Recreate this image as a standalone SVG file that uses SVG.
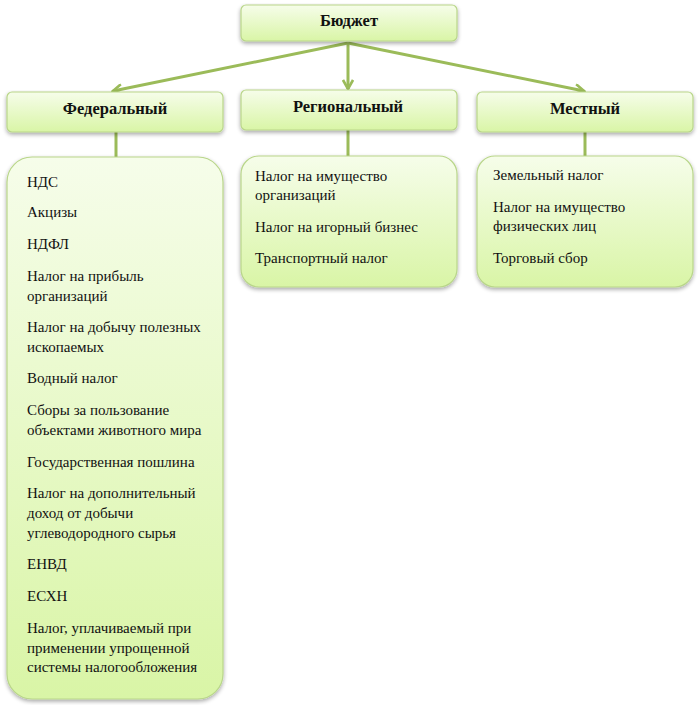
<svg xmlns="http://www.w3.org/2000/svg" width="700" height="705" viewBox="0 0 700 705">
<defs>
<linearGradient id="g" x1="0" y1="0" x2="0" y2="1">
<stop offset="0" stop-color="#f6fdea"/>
<stop offset="1" stop-color="#d9f5a6"/>
</linearGradient>
<filter id="sh" x="-10%" y="-10%" width="120%" height="130%">
<feGaussianBlur in="SourceAlpha" stdDeviation="2"/>
<feOffset dx="0" dy="2" result="b"/>
<feComponentTransfer><feFuncA type="linear" slope="0.35"/></feComponentTransfer>
<feMerge><feMergeNode/><feMergeNode in="SourceGraphic"/></feMerge>
</filter>
<marker id="ah" viewBox="0 0 12 12" refX="10" refY="6" markerWidth="12" markerHeight="12" markerUnits="userSpaceOnUse" orient="auto">
<path d="M1,1 L10,6 L1,11" fill="none" stroke="#9bbb59" stroke-width="2.6"/>
</marker>
</defs>
<style>
.box{fill:url(#g);stroke:#b9d68a;stroke-width:1.2;filter:url(#sh)}
.h{font-weight:bold;font-size:16.5px;fill:#111;text-anchor:middle}
.t{font-size:15px;fill:#111}
.c{stroke:#9bbb59;stroke-width:3;fill:none}
</style>
<rect width="700" height="705" fill="#fff"/>
<g id="connectors">
<line class="c" x1="348" y1="43" x2="113" y2="91" marker-end="url(#ah)"/>
<line class="c" x1="348" y1="43" x2="348" y2="89" marker-end="url(#ah)"/>
<line class="c" x1="348" y1="43" x2="584" y2="91" marker-end="url(#ah)"/>
<line class="c" x1="116" y1="132" x2="116" y2="158"/>
<line class="c" x1="348" y1="130" x2="348" y2="157"/>
<line class="c" x1="585" y1="132" x2="585" y2="157"/>
</g>
<g font-family="Liberation Serif, Times New Roman, serif">
<g id="budget">
<rect class="box" x="241" y="5" width="216" height="36" rx="5"/>
<text class="h" x="349" y="26">Бюджет</text>
</g>
<g id="federal">
<rect class="box" x="7" y="92" width="216" height="40" rx="5"/>
<text class="h" x="115" y="114">Федеральный</text>
</g>
<g id="regional">
<rect class="box" x="241" y="90" width="216" height="40" rx="5"/>
<text class="h" x="348" y="112">Региональный</text>
</g>
<g id="local">
<rect class="box" x="477" y="92" width="216" height="40" rx="5"/>
<text class="h" x="585" y="114">Местный</text>
</g>
<g id="federal-list">
<rect class="box" x="7" y="157" width="216" height="542" rx="25"/>
<text class="t" x="27" y="187">НДС</text>
<text class="t" x="27" y="217">Акцизы</text>
<text class="t" x="27" y="249">НДФЛ</text>
<text class="t" x="27" y="281">Налог на прибыль</text>
<text class="t" x="27" y="301">организаций</text>
<text class="t" x="27" y="332">Налог на добычу полезных</text>
<text class="t" x="27" y="352">ископаемых</text>
<text class="t" x="27" y="383">Водный налог</text>
<text class="t" x="27" y="415">Сборы за пользование</text>
<text class="t" x="27" y="435">объектами животного мира</text>
<text class="t" x="27" y="467">Государственная пошлина</text>
<text class="t" x="27" y="498">Налог на дополнительный</text>
<text class="t" x="27" y="518">доход от добычи</text>
<text class="t" x="27" y="538">углеводородного сырья</text>
<text class="t" x="27" y="569">ЕНВД</text>
<text class="t" x="27" y="601">ЕСХН</text>
<text class="t" x="27" y="633">Налог, уплачиваемый при</text>
<text class="t" x="27" y="653">применении упрощенной</text>
<text class="t" x="27" y="672">системы налогообложения</text>
</g>
<g id="regional-list">
<rect class="box" x="241" y="156" width="216" height="131" rx="18"/>
<text class="t" x="255" y="181">Налог на имущество</text>
<text class="t" x="255" y="200">организаций</text>
<text class="t" x="255" y="232">Налог на игорный бизнес</text>
<text class="t" x="255" y="263">Транспортный налог</text>
</g>
<g id="local-list">
<rect class="box" x="477" y="156" width="216" height="131" rx="18"/>
<text class="t" x="493" y="180">Земельный налог</text>
<text class="t" x="493" y="212">Налог на имущество</text>
<text class="t" x="493" y="231">физических лиц</text>
<text class="t" x="493" y="263">Торговый сбор</text>
</g>
</g>
</svg>
